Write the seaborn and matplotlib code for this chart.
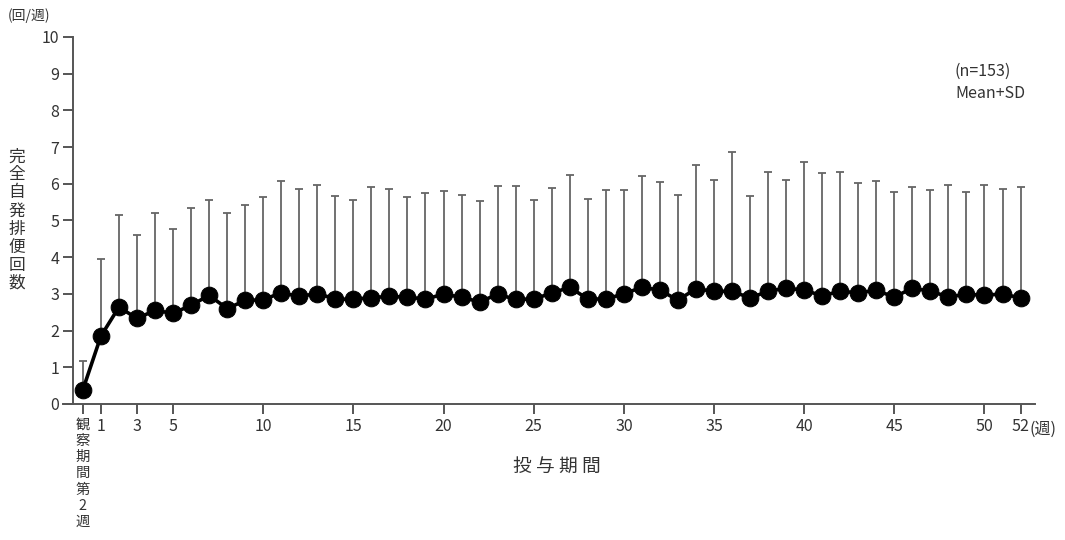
import numpy as np
import pandas as pd
import matplotlib
matplotlib.use('Agg')
import matplotlib.pyplot as plt
import matplotlib.transforms as mtransforms
import seaborn as sns

# ── data ──────────────────────────────────────────────────
weeks = list(range(0, 53))   # 0 = observation period week 2
mean = [0.39, 1.85, 2.64, 2.33, 2.55, 2.47, 2.69, 2.96, 2.60, 2.82,
        2.84, 3.03, 2.93, 3.01, 2.86, 2.85, 2.90, 2.93, 2.91, 2.86,
        2.99, 2.91, 2.78, 2.99, 2.85, 2.86, 3.02, 3.18, 2.86, 2.86,
        3.00, 3.18, 3.10, 2.83, 3.14, 3.07, 3.07, 2.89, 3.07, 3.16,
        3.10, 2.95, 3.07, 3.03, 3.10, 2.91, 3.16, 3.07, 2.92, 2.99,
        2.96, 3.00, 2.89]
sd = [0.77, 2.11, 2.52, 2.28, 2.66, 2.30, 2.66, 2.60, 2.61, 2.59,
      2.79, 3.05, 2.92, 2.96, 2.82, 2.70, 3.01, 2.93, 2.74, 2.89,
      2.82, 2.79, 2.76, 2.94, 3.08, 2.69, 2.86, 3.05, 2.73, 2.98,
      2.84, 3.04, 2.94, 2.87, 3.37, 3.02, 3.79, 2.77, 3.26, 2.95,
      3.50, 3.34, 3.24, 3.00, 2.97, 2.87, 2.75, 2.76, 3.06, 2.79,
      3.02, 2.87, 3.02]
tick_pos = [0, 1, 3, 5, 10, 15, 20, 25, 30, 35, 40, 45, 50, 52]
tick_lab = ['\n'.join('観察期間第2週'), '1', '3', '5', '10', '15', '20', '25',
            '30', '35', '40', '45', '50', '52']

df = pd.DataFrame({'week': weeks, 'mean': mean, 'sd': sd})

# ── style ─────────────────────────────────────────────────
sns.set_theme(style='ticks')
plt.rcParams['font.family'] = ['Noto Sans CJK JP', 'DejaVu Sans']
TXT = '#333333'
AX = '#555555'

fig = plt.figure(figsize=(10.65, 5.4), dpi=100, facecolor='white')
ax = fig.add_axes([0.0592, 0.2519, 0.9126, 0.6796])

# SD bars (upper only)
ax.errorbar(df['week'], df['mean'], yerr=[np.zeros(len(df)), df['sd']],
            fmt='none', ecolor='#666666', elinewidth=1.3, capsize=3.2,
            capthick=1.3, zorder=1)
sns.lineplot(data=df, x='week', y='mean', ax=ax, color='black', lw=2.6,
             marker='o', markersize=12, markeredgecolor='black',
             markerfacecolor='black', zorder=3)

ax.set_xlim(-1.1, 52.8)
ax.set_ylim(0, 10)
ax.spines['left'].set_position(('data', -0.55))
ax.spines['left'].set_bounds(0, 10)
for s in ['top', 'right']:
    ax.spines[s].set_visible(False)
for s in ['left', 'bottom']:
    ax.spines[s].set_color(AX)
    ax.spines[s].set_linewidth(1.4)

ax.set_yticks(range(0, 11))
ax.set_xticks(tick_pos)
ax.set_xticklabels(tick_lab)
ax.tick_params(axis='both', direction='out', length=7, width=1.4,
               color=AX, labelcolor=TXT, labelsize=11.5, pad=3)
# stacked baseline label a bit smaller so it fits
base_lab = ax.get_xticklabels()[0]
base_lab.set_fontsize(10.3)
base_lab.set_linespacing(1.2)
ax.set_xlabel('')
ax.set_ylabel('')

# "(週)" right after the 52 label
trans = mtransforms.blended_transform_factory(ax.transData, ax.transAxes)
ax.text(52.5, -0.045, '(週)', transform=trans, ha='left', va='top',
        fontsize=11.5, color=TXT)

# ── labels & notes ────────────────────────────────────────
fig.text(557 / 1065, 1 - 466 / 540, '投 与 期 間', ha='center', va='center',
         fontsize=13.5, color=TXT)
fig.text(17 / 1065, 1 - 220 / 540, '\n'.join('完全自発排便回数'),
         ha='center', va='center', fontsize=12, color=TXT, linespacing=1.08)
fig.text(8 / 1065, 1 - 16 / 540, '(回/週)', ha='left', va='center',
         fontsize=10, color=TXT)
fig.text(955 / 1065, 1 - 71 / 540, '(n=153)', ha='left', va='center',
         fontsize=11.5, color=TXT)
fig.text(955 / 1065, 1 - 93 / 540, 'Mean+SD', ha='left', va='center',
         fontsize=11.5, color=TXT)

fig.savefig('out.png', dpi=100, facecolor='white')
